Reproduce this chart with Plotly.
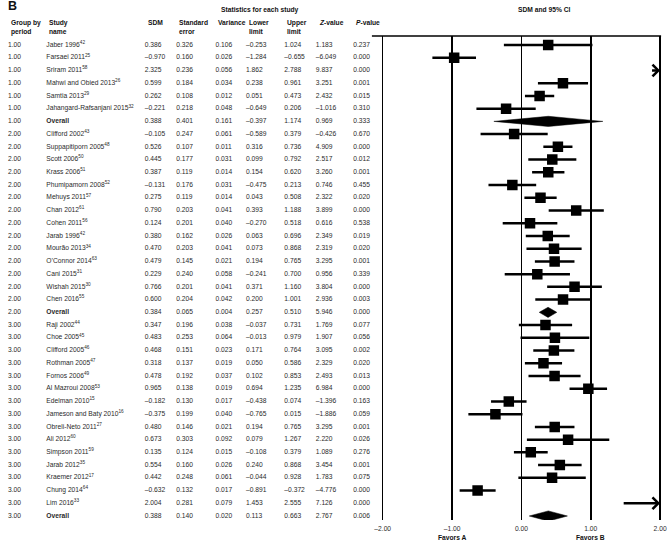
import plotly.graph_objects as go

# ---------------- data ----------------
groups = ["1.00"] * 7 + ["2.00"] * 15 + ["3.00"] * 16

studies = [
    "Jaber 1996<sup>42</sup>", "Farsaei 2011<sup>25</sup>", "Sriram 2011<sup>58</sup>",
    "Mahwi and Obied 2013<sup>26</sup>", "Samtia 2013<sup>29</sup>",
    "Jahangard-Rafsanjani 2015<sup>32</sup>", "Overall",
    "Clifford 2002<sup>43</sup>", "Suppapitiporn 2005<sup>48</sup>", "Scott 2006<sup>50</sup>",
    "Krass 2006<sup>51</sup>", "Phumipamorn 2008<sup>52</sup>", "Mehuys 2011<sup>57</sup>",
    "Chan 2012<sup>61</sup>", "Cohen 2011<sup>56</sup>", "Jarab 1996<sup>42</sup>",
    "Mourão 2013<sup>34</sup>", "O’Connor 2014<sup>63</sup>", "Cani 2015<sup>31</sup>",
    "Wishah 2015<sup>30</sup>", "Chen 2016<sup>55</sup>", "Overall",
    "Raji 2002<sup>44</sup>", "Choe 2005<sup>45</sup>", "Clifford 2005<sup>46</sup>",
    "Rothman 2005<sup>47</sup>", "Fornos 2006<sup>49</sup>", "Al Mazroui 2008<sup>53</sup>",
    "Edelman 2010<sup>15</sup>", "Jameson and Baty 2010<sup>16</sup>",
    "Obreli-Neto 2011<sup>27</sup>", "Ali 2012<sup>60</sup>", "Simpson 2011<sup>59</sup>",
    "Jarab 2012<sup>35</sup>", "Kraemer 2012<sup>17</sup>", "Chung 2014<sup>64</sup>",
    "Lim 2016<sup>33</sup>", "Overall",
]

sdm = [0.386, -0.970, 2.325, 0.599, 0.262, -0.221, 0.388,
       -0.105, 0.526, 0.445, 0.387, -0.131, 0.275, 0.790, 0.124, 0.380, 0.470, 0.479,
       0.229, 0.766, 0.600, 0.384,
       0.347, 0.483, 0.468, 0.318, 0.478, 0.965, -0.182, -0.375, 0.480, 0.673, 0.135,
       0.554, 0.442, -0.632, 2.004, 0.388]
std_err = [0.326, 0.160, 0.236, 0.184, 0.108, 0.218, 0.401,
           0.247, 0.107, 0.177, 0.119, 0.176, 0.119, 0.203, 0.201, 0.162, 0.203, 0.145,
           0.240, 0.201, 0.204, 0.065,
           0.196, 0.253, 0.151, 0.137, 0.192, 0.138, 0.130, 0.199, 0.146, 0.303, 0.124,
           0.160, 0.248, 0.132, 0.281, 0.140]
variance = [0.106, 0.026, 0.056, 0.034, 0.012, 0.048, 0.161,
            0.061, 0.011, 0.031, 0.014, 0.031, 0.014, 0.041, 0.040, 0.026, 0.041, 0.021,
            0.058, 0.041, 0.042, 0.004,
            0.038, 0.064, 0.023, 0.019, 0.037, 0.019, 0.017, 0.040, 0.021, 0.092, 0.015,
            0.026, 0.061, 0.017, 0.079, 0.020]
lower = [-0.253, -1.284, 1.862, 0.238, 0.051, -0.649, -0.397,
         -0.589, 0.316, 0.099, 0.154, -0.475, 0.043, 0.393, -0.270, 0.063, 0.073, 0.194,
         -0.241, 0.371, 0.200, 0.257,
         -0.037, -0.013, 0.171, 0.050, 0.102, 0.694, -0.438, -0.765, 0.194, 0.079, -0.108,
         0.240, -0.044, -0.891, 1.453, 0.113]
upper = [1.024, -0.655, 2.788, 0.961, 0.473, 0.206, 1.174,
         0.379, 0.736, 0.792, 0.620, 0.213, 0.508, 1.188, 0.518, 0.696, 0.868, 0.765,
         0.700, 1.160, 1.001, 0.510,
         0.731, 0.979, 0.764, 0.586, 0.853, 1.235, 0.074, 0.015, 0.765, 1.267, 0.379,
         0.868, 0.928, -0.372, 2.555, 0.663]
z_value = [1.183, -6.049, 9.837, 3.251, 2.432, -1.016, 0.969,
           -0.426, 4.909, 2.517, 3.260, 0.746, 2.322, 3.899, 0.616, 2.349, 2.319, 3.295,
           0.956, 3.804, 2.936, 5.946,
           1.769, 1.907, 3.095, 2.329, 2.493, 6.984, -1.396, -1.886, 3.295, 2.220, 1.089,
           3.454, 1.783, -4.776, 7.126, 2.767]
p_value = [0.237, 0.000, 0.000, 0.001, 0.015, 0.310, 0.333,
           0.670, 0.000, 0.012, 0.001, 0.455, 0.020, 0.000, 0.538, 0.019, 0.020, 0.001,
           0.339, 0.000, 0.003, 0.000,
           0.077, 0.056, 0.002, 0.020, 0.013, 0.000, 0.163, 0.059, 0.001, 0.026, 0.276,
           0.001, 0.075, 0.000, 0.000, 0.006]

tick_vals = [-2, -1, 0, 1, 2]
tick_text = ["–2.00", "–1.00", "0.00", "1.00", "2.00"]

# ---------------- helpers ----------------
W, H = 672, 542
FONT = "Liberation Sans, Arial, Helvetica, sans-serif"
FS = 6.7
TXT = "#2a2a2a"
XMIN, XMAX = -2, 2
PAD = 0.03  # small padding so the edge grid lines are drawn

def fmt(v):
    s = f"{abs(v):.3f}"
    return ("–" + s) if v < 0 else s

n = len(studies)
rows = list(range(n))
is_overall = [s == "Overall" for s in studies]

def px_x(p):
    return p / W

def px_y(p):
    return 1 - p / H

# plot geometry (pixels)
PLOT_L, PLOT_R = 383, 665
PX_PER_UNIT = (PLOT_R - PLOT_L) / (XMAX - XMIN)
DOM_L = PLOT_L - PAD * PX_PER_UNIT
DOM_R = PLOT_R + PAD * PX_PER_UNIT
PLOT_T, PLOT_B = 36, 520
ROW0, ROW_STEP = 45, 12.73
y_top = (PLOT_T - ROW0) / ROW_STEP
y_bot = (PLOT_B - ROW0) / ROW_STEP

fig = go.Figure()

# ---------------- table text ----------------
col_x = {"group": 2, "study": 41, "sdm": 141, "se": 173, "var": 213,
         "lo": 244, "hi": 283, "z": 315, "p": 353}

study_txt = [f"<b>{s}</b>" if o else s for s, o in zip(studies, is_overall)]
columns = [
    ("group", groups),
    ("study", study_txt),
    ("sdm", [fmt(v) for v in sdm]),
    ("se", [fmt(v) for v in std_err]),
    ("var", [fmt(v) for v in variance]),
    ("lo", [fmt(v) for v in lower]),
    ("hi", [fmt(v) for v in upper]),
    ("z", [fmt(v) for v in z_value]),
    ("p", [fmt(v) for v in p_value]),
]
for key, vals in columns:
    fig.add_trace(go.Scatter(
        x=[col_x[key]] * n, y=rows, text=vals, mode="text",
        textposition="middle right",
        textfont=dict(family=FONT, size=FS, color=TXT),
        xaxis="x2", yaxis="y", hoverinfo="skip", showlegend=False,
        cliponaxis=False,
    ))

# ---------------- forest plot ----------------
st_idx = [i for i in rows if not is_overall[i] and XMIN <= sdm[i] <= XMAX]
fig.add_trace(go.Scatter(
    x=[sdm[i] for i in st_idx], y=[rows[i] for i in st_idx],
    mode="markers",
    marker=dict(symbol="square", size=10.5, color="black", line=dict(width=0)),
    error_x=dict(type="data", symmetric=False,
                 array=[upper[i] - sdm[i] for i in st_idx],
                 arrayminus=[sdm[i] - lower[i] for i in st_idx],
                 thickness=2.5, width=0, color="black"),
    xaxis="x", yaxis="y", hoverinfo="skip", showlegend=False,
))

HALF = 0.4
for i in rows:
    if is_overall[i]:
        r = rows[i]
        fig.add_trace(go.Scatter(
            x=[lower[i], sdm[i], upper[i], sdm[i], lower[i]],
            y=[r, r - HALF, r, r + HALF, r],
            mode="lines", fill="toself", fillcolor="black",
            line=dict(color="black", width=0.5),
            xaxis="x", yaxis="y", hoverinfo="skip", showlegend=False,
        ))

annotations = []
for i in rows:
    if is_overall[i]:
        continue
    if upper[i] > XMAX:
        if lower[i] < XMAX:
            tail, w, sz = lower[i], 2.5, 0.9
        else:
            tail, w, sz = XMAX - 0.11, 1.2, 0.8
        annotations.append(dict(
            x=XMAX, y=rows[i], ax=tail, ay=rows[i],
            xref="x", yref="y", axref="x", ayref="y",
            text="", showarrow=True, arrowhead=4, arrowsize=sz,
            arrowwidth=w, arrowcolor="black",
        ))

def ann(text, x, y, size=FS, anchor="left", bold=True):
    annotations.append(dict(
        text=f"<b>{text}</b>" if bold else text,
        x=px_x(x), y=px_y(y), xref="paper", yref="paper",
        xanchor=anchor, yanchor="middle", showarrow=False,
        font=dict(family=FONT, size=size, color="#111111"),
    ))

ann("B", 0, 6, size=12.5)
ann("Statistics for each study", 258, 10, anchor="center")
ann("SDM and 95% CI", 547, 10, anchor="center")
hdr = [("group", "Group by", "period"), ("study", "Study", "name"), ("sdm", "SDM", ""),
       ("se", "Standard", "error"), ("var", "Variance", ""), ("lo", "Lower", "limit"),
       ("hi", "Upper", "limit"), ("z", "<i>Z</i>-value", ""), ("p", "<i>P</i>-value", "")]
for key, l1, l2 in hdr:
    ann(l1, col_x[key] + 1, 23)
    if l2:
        ann(l2, col_x[key] + 1, 32)

for xv, lab in [(-1, "Favors A"), (1, "Favors B")]:
    annotations.append(dict(
        text=f"<b>{lab}</b>", x=xv, y=px_y(537), xref="x", yref="paper",
        xanchor="center", yanchor="middle", showarrow=False,
        font=dict(family=FONT, size=FS, color="#111111"),
    ))

shapes = [dict(type="line", xref="paper", yref="paper",
               x0=px_x(372), x1=px_x(PLOT_R + 1), y0=px_y(PLOT_T), y1=px_y(PLOT_T),
               line=dict(color="black", width=1.3))]

fig.update_layout(
    width=W, height=H,
    margin=dict(l=0, r=0, t=0, b=0),
    paper_bgcolor="white", plot_bgcolor="rgba(0,0,0,0)",
    showlegend=False,
    xaxis=dict(domain=[px_x(DOM_L), px_x(DOM_R)], range=[XMIN - PAD, XMAX + PAD],
               tickvals=tick_vals, ticktext=tick_text, ticks="",
               ticklabelstandoff=3,
               showgrid=True, gridcolor="black", gridwidth=1.5,
               zeroline=False, showline=False, anchor="y", fixedrange=True,
               tickfont=dict(family=FONT, size=FS, color=TXT)),
    xaxis2=dict(domain=[0, 1], range=[0, W], visible=False, anchor="y",
                fixedrange=True),
    yaxis=dict(domain=[1 - PLOT_B / H, 1 - PLOT_T / H], range=[y_bot, y_top],
               visible=False, fixedrange=True),
    annotations=annotations,
    shapes=shapes,
)

fig.write_html("out.html",
               config={"displayModeBar": False, "staticPlot": True},
               post_script="document.body.style.margin='0';document.body.style.padding='0';")
